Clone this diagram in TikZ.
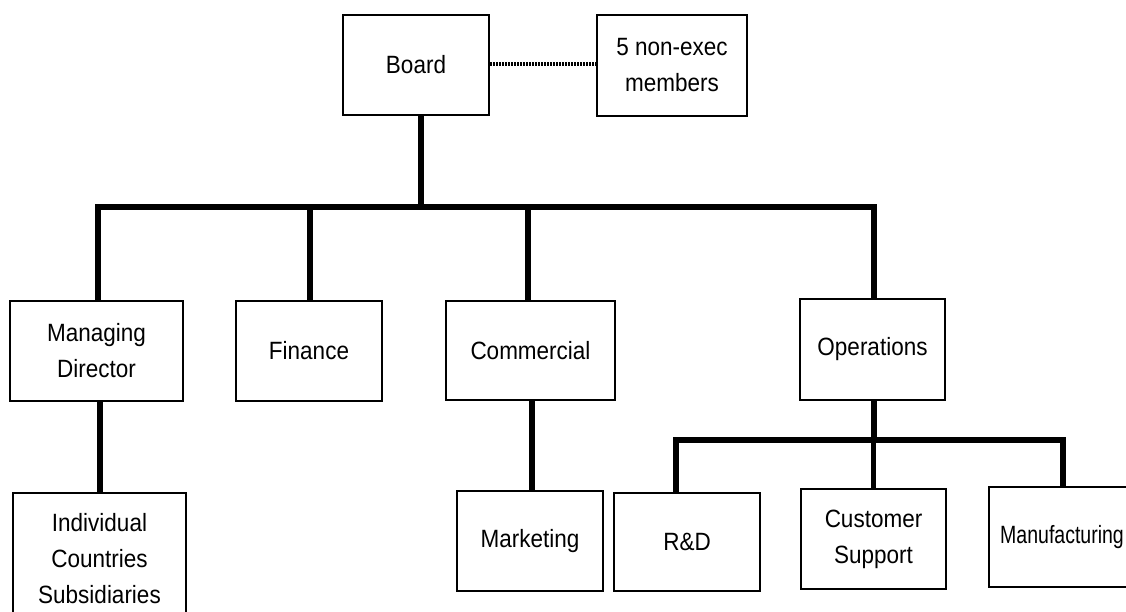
\documentclass[tikz,border=0pt]{standalone}
\usepackage{fontspec}
\setmainfont{Liberation Sans}[FakeStretch=0.9]
\newfontfamily\narrowfont{Liberation Sans}[FakeStretch=0.78]
\begin{document}
\begin{tikzpicture}[x=1pt,y=-1pt,
  box/.style={draw=black, line width=2.7pt, fill=white, rectangle, inner sep=0pt,
    align=center, font=\fontsize{25}{36}\selectfont},
  mainline/.style={line width=6pt, line cap=butt},
  subline/.style={line width=5.5pt, line cap=butt},
  nonexecline/.style={line width=4pt, dash pattern=on 1.6pt off 1.4pt}]
\useasboundingbox (0,0) rectangle (1126,611);
\clip (0,0) rectangle (1126,611);

\coordinate (hub) at (421,207);
\coordinate (opsbar) at (874,440);

% boxes
\node[box, minimum width=146pt, minimum height=100pt] (board) at (416,65) {Board};
\node[box, minimum width=150pt, minimum height=101pt] (nex) at (672,65.5) {5 non-exec\\members};
\node[box, minimum width=173pt, minimum height=100pt] (md) at (96.5,351) {Managing\\Director};
\node[box, minimum width=146pt, minimum height=100pt] (fin) at (309,351) {Finance};
\node[box, minimum width=169pt, minimum height=99pt] (com) at (530.5,350.5) {Commercial};
\node[box, minimum width=145pt, minimum height=101pt] (ops) at (872.5,349.5) {Operations};
\node[box, minimum width=173pt, minimum height=132pt] (subs) at (99.5,559) {Individual\\Countries\\Subsidiaries};
\node[box, minimum width=146pt, minimum height=100pt] (mkt) at (530,541) {Marketing};
\node[box, minimum width=146pt, minimum height=98pt] (rd) at (687,542) {R\&D};
\node[box, minimum width=145pt, minimum height=100pt] (cs) at (873.5,539) {Customer\\Support};
\node[box, minimum width=146pt, minimum height=100pt] (mfg) at (1062,537) {\narrowfont Manufacturing};

% board to non-executive members
\draw[nonexecline] ([yshift=1pt]board.east) -- ([yshift=1pt]board.east -| nex.west);

% board to the four directorates
\draw[mainline] ([xshift=5pt]board.south) -- (hub);
\draw[mainline] ([xshift=1.5pt]md.north) |- (hub) -| ([xshift=1.5pt]ops.north);
\draw[mainline] ([xshift=0.5pt]fin.north) -- ([xshift=0.5pt]fin.north |- hub);
\draw[mainline] ([xshift=-3pt]com.north) -- ([xshift=-3pt]com.north |- hub);

% second level
\draw[subline] ([xshift=0.5pt]subs.north) -- ([xshift=0.5pt]subs.north |- md.south);
\draw[subline] ([xshift=2pt]mkt.north) -- ([xshift=2pt]mkt.north |- com.south);
\draw[subline] ([xshift=1.5pt]ops.south) -- (opsbar);
\draw[subline] ([xshift=-11pt]rd.north) |- (opsbar) -| ([xshift=1pt]mfg.north);
\draw[subline] (cs.north) -- (cs.north |- opsbar);
\end{tikzpicture}
\end{document}
